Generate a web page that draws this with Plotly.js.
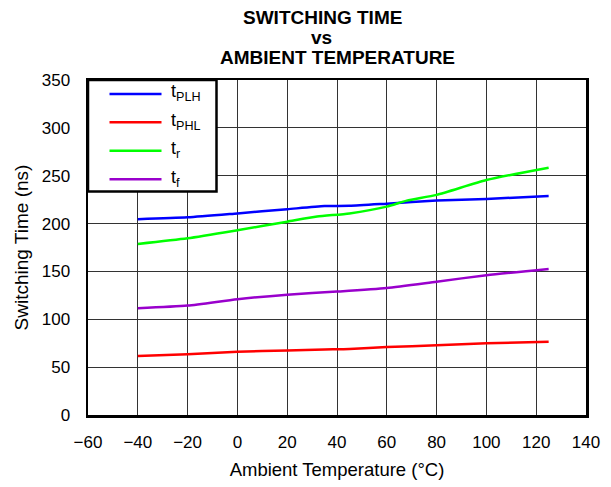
<!DOCTYPE html>
<html>
<head>
<meta charset="utf-8">
<script src="https://cdn.plot.ly/plotly-3.0.1.min.js"></script>
<style>html,body{margin:0;padding:0;background:#fff}#chart{width:611px;height:487px}</style>
</head>
<body>
<div id="chart"></div>
<script>
const temps = [-40, -20, 0, 20, 35, 45, 60, 80, 100, 125];
const tPLH = [204.5, 206.5, 210.6, 215, 218.3, 218.6, 220.8, 224, 225.7, 228.8];
const tPHL = [61.7, 63.5, 66, 67.5, 68.5, 69, 71, 72.8, 75, 76.4];
const tempsR = [-40, -20, 0, 20, 32, 45, 60, 68, 80, 100, 125];
const tR = [178.7, 184.6, 193, 202, 207.3, 210.6, 217.7, 224, 230, 245.5, 258.4];
const tempsF = [-40, -20, 0, 20, 40, 60, 80, 100, 125];
const tF = [111.5, 114.3, 121, 125.7, 128.9, 132.7, 139.3, 146, 152.5];

const seriesNames = ['t<sub>PLH</sub>', 't<sub>PHL</sub>', 't<sub>r</sub>', 't<sub>f</sub>'];
const seriesColors = ['#0000ff', '#ff0000', '#00ff00', '#9900cc'];
const titleLines = ['SWITCHING TIME', 'vs', 'AMBIENT TEMPERATURE'];

const xTicks = [-60, -40, -20, 0, 20, 40, 60, 80, 100, 120, 140];
const xTickText = ['\u221260', '\u221240', '\u221220', '0', '20', '40', '60', '80', '100', '120', '140'];
const yTicks = [0, 50, 100, 150, 200, 250, 300, 350];

const xs = [temps, temps, tempsR, tempsF];
const ys = [tPLH, tPHL, tR, tF];
const traces = ys.map((y, i) => ({
  x: xs[i], y: y, name: seriesNames[i], type: 'scatter', mode: 'lines',
  line: {color: seriesColors[i], width: 2.5, shape: 'spline', smoothing: 0.6},
  showlegend: false
}));

const fam = 'Liberation Sans, Arial, sans-serif';
const font = (s, bold) => ({family: fam, color: '#000', size: s, weight: bold ? 'bold' : 'normal'});

// plot area in pixels: left 88, right 586, top 80, bottom 415
const L = 88, R = 586, T = 80, B = 415;
const px = (x) => (x - L) / (R - L);
const py = (y) => (B - y) / (B - T);

const shapes = [];
const annotations = [];

// title lines
const titleY = [17.5, 37.5, 57];
const titleX = [322, 321, 337];
titleLines.forEach((t, i) => annotations.push({
  text: '<b>' + t + '</b>', xref: 'paper', yref: 'paper',
  x: px(titleX[i]), y: py(titleY[i]), xanchor: 'center', yanchor: 'middle',
  showarrow: false, font: font(19, true)
}));

// legend box
shapes.push({type: 'rect', xref: 'paper', yref: 'paper',
  x0: 0, x1: px(216.5), y0: py(191.5), y1: 1,
  line: {color: '#000', width: 2.5}, fillcolor: '#fff', layer: 'above'});
const rowY = [94, 122.3, 150.7, 179.3];
seriesNames.forEach((n, i) => {
  shapes.push({type: 'line', xref: 'paper', yref: 'paper',
    x0: px(109.5), x1: px(161.5), y0: py(rowY[i]), y1: py(rowY[i]),
    line: {color: seriesColors[i], width: 2.5}, layer: 'above'});
  annotations.push({text: n, xref: 'paper', yref: 'paper',
    x: px(169), y: py(rowY[i] - 1), xanchor: 'left', yanchor: 'middle',
    showarrow: false, font: font(18)});
});

const layout = {
  width: 611, height: 487,
  margin: {l: L, r: 611 - R, t: T, b: 487 - B},
  paper_bgcolor: '#fff', plot_bgcolor: '#fff',
  font: font(17),
  xaxis: {
    range: [-60, 140], tickvals: xTicks, ticktext: xTickText,
    showgrid: true, gridcolor: '#333', gridwidth: 1,
    showline: true, linecolor: '#000', linewidth: 2.5, mirror: true,
    ticks: '', zeroline: false, ticklabelstandoff: 10,
    tickfont: font(17),
    title: {text: 'Ambient Temperature (°C)', font: font(18.5), standoff: 12}
  },
  yaxis: {
    range: [0, 350], tickvals: yTicks,
    showgrid: true, gridcolor: '#333', gridwidth: 1,
    showline: true, linecolor: '#000', linewidth: 2.5, mirror: true,
    ticks: '', zeroline: false, ticklabelstandoff: 12,
    tickfont: font(17),
    title: {text: 'Switching Time (ns)', font: font(19), standoff: 8}
  },
  shapes: shapes,
  annotations: annotations,
  showlegend: false
};

Plotly.newPlot('chart', traces, layout, {displayModeBar: false, staticPlot: true});
</script>
</body>
</html>
